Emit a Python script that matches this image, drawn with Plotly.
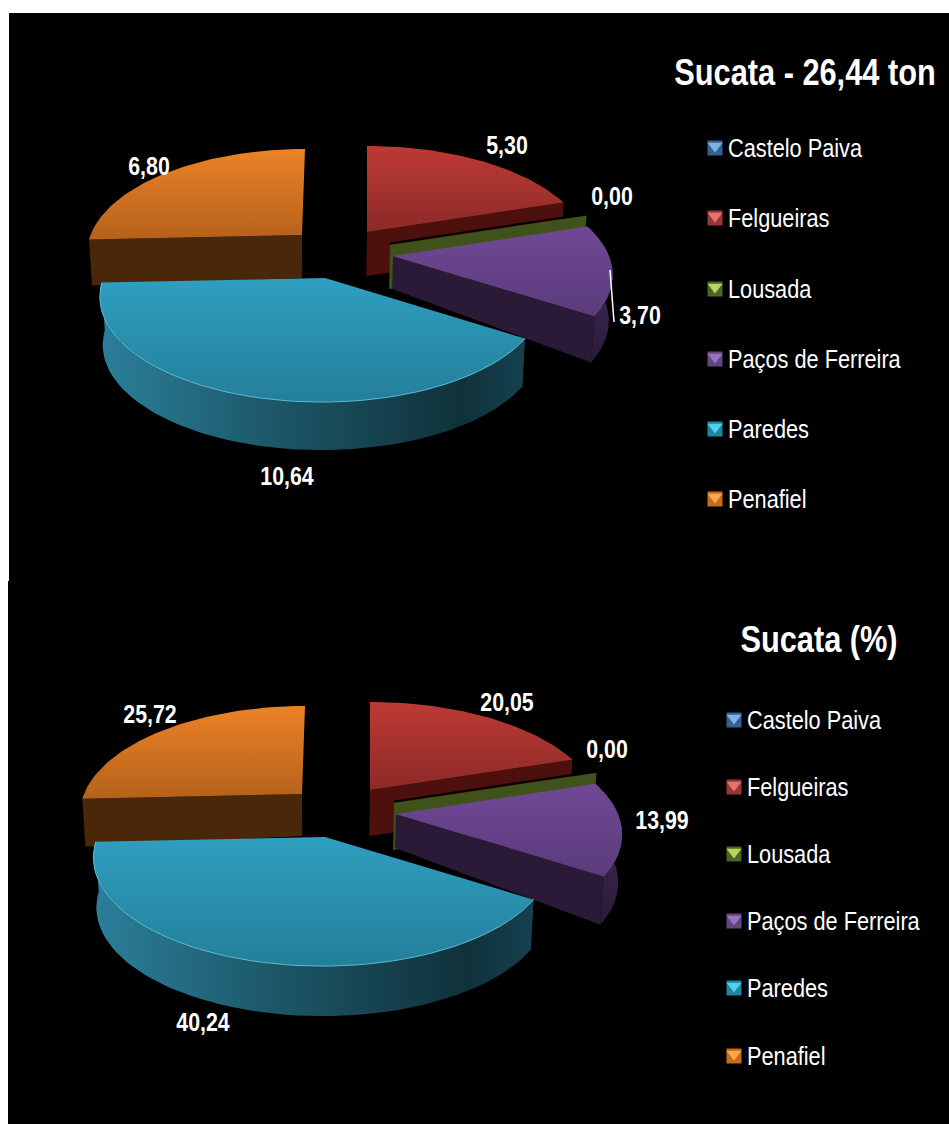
import math
import plotly.graph_objects as go

# ---------- data ----------
CATEGORIES = ["Castelo Paiva", "Felgueiras", "Lousada", "Paços de Ferreira", "Paredes", "Penafiel"]
TONS = [0.0, 5.30, 0.0, 3.70, 10.64, 6.80]
PERCENT = [0.0, 20.05, 0.0, 13.99, 40.24, 25.72]
TITLE_TOP = "Sucata - 26,44 ton"
TITLE_BOTTOM = "Sucata (%)"

# ---------- styles ----------
FONT = "Liberation Sans, Arial, sans-serif"
TOP_FACE = [("#4F81BD", "#3A6A9E"), ("#BE3A35", "#8C2A27"), ("#7F9F36", "#5F7A28"),
            ("#704896", "#5B3B7C"), ("#2F9FC0", "#237F9A"), ("#EC8226", "#B5611B")]
WALL = ["#1F3A5A", "#4D100C", "#3F5219", "#2A1A37", "#153A46", "#4A2709"]
BLUE_RIM = [[0, "#2B7F9B"], [0.45, "#1B5363"], [0.85, "#10313B"], [1, "#154250"]]
PURPLE_RIM = ("#46305F", "#2A1A37")
BEVEL = ["#7FB0E8", "#E87070", "#B6D85A", "#9A6FC4", "#4FD0EC", "#F8A850"]
MARK = ["#366092", "#953735", "#4F6228", "#5F497A", "#21859F", "#C96A15"]

# ---------- geometry (pixel frame of the page) ----------
W, H = 949, 1124
CHARTS = [
    dict(values=TONS, b=101.6, k=0.181, total=sum(TONS),
         R=[218, 218, 218, 218, 218, 214.5], arc_dx=[0, 0, 0, -2, -3.5, 3],
         apex=[(367, 232), (367, 232), (390, 245), (393, 256), (325, 278), (302, 235)],
         apex_depth=[44, 44, 44, 33, 48, 43], depth=46, cx=320,
         title=TITLE_TOP, title_xy=(805, 76),
         labels=[None, (507, 147), (612, 198), (640, 317), (287, 478), (149, 168)],
         legend_x=715, legend_y=[150, 220, 291, 361, 431, 501], marker_y=[148, 218, 289, 359, 429, 499]),
    dict(values=PERCENT, b=104.7, k=0.189, total=sum(PERCENT),
         R=[225, 225, 225, 225, 225, 221], arc_dx=[0, 0, 0, -3, -2.5, 3],
         apex=[(370, 790), (370, 790), (394, 803), (396, 814), (325, 837), (302, 794)],
         apex_depth=[46, 46, 47, 34, 50, 42], depth=48, cx=320,
         title=TITLE_BOTTOM, title_xy=(819, 643),
         labels=[None, (507, 704), (607, 751), (662, 822), (203, 1024), (150, 716)],
         legend_x=734, legend_y=[722, 789, 856, 923, 990, 1058], marker_y=[720, 787, 854, 921, 988, 1056]),
]
LEADER = [(610, 270), (614, 322)]

fig = go.Figure()


def project(ch, i, theta):
    ax, ay = ch["apex"][i]
    X, Y = math.sin(theta), math.cos(theta)
    s = 1 / (1 + ch["k"] * Y)
    return ax + ch["arc_dx"][i] + ch["R"][i] * X * s, ay - ch["b"] * Y * s


def arc(ch, i, t0, t1, n=60):
    return [project(ch, i, t0 + (t1 - t0) * j / n) for j in range(n + 1)]


def bottom(ch, x, y, d):
    return ch["cx"] + (x - ch["cx"]) * 0.987, y + d


def poly(points, grad_type, colors):
    xs = [p[0] for p in points] + [points[0][0]]
    ys = [p[1] for p in points] + [points[0][1]]
    if grad_type is None:
        fillkw = dict(fillcolor=colors)
    else:
        vals = [p[1] for p in points] if grad_type == "vertical" else [p[0] for p in points]
        if isinstance(colors, tuple):
            colors = [[0, colors[0]], [1, colors[1]]]
        fillkw = dict(fillgradient=dict(type=grad_type, start=min(vals), stop=max(vals),
                                        colorscale=colors))
    fig.add_trace(go.Scatter(x=xs, y=ys, mode="lines", fill="toself", line=dict(width=0),
                             hoverinfo="skip", showlegend=False, **fillkw))


for ch in CHARTS:
    vals, total = ch["values"], ch["total"]
    angles, acc = [], 0.0
    for v in vals:
        angles.append((2 * math.pi * acc / total, 2 * math.pi * (acc + v) / total))
        acc += v

    # painter's order: far slices first
    for i in [1, 2, 3, 5, 4]:
        t0, t1 = angles[i]
        ax, ay = ch["apex"][i]
        d, ad = ch["depth"], ch["apex_depth"][i]
        top_arc = arc(ch, i, t0, t1) if vals[i] > 0 else [project(ch, i, t0)]

        # flat radial wall facing the viewer
        if i in (1, 2, 3):
            e = project(ch, i, t1)
        elif i == 5:
            e = project(ch, i, t0)
        else:
            e = None
        if e is not None:
            poly([(ax, ay), e, bottom(ch, e[0], e[1], d), bottom(ch, ax, ay, ad)], None, WALL[i])
        if i == 2:
            fig.add_trace(go.Scatter(x=[ax, e[0]], y=[ay - 1.5, e[1] - 1.5], mode="lines",
                                     line=dict(color="black", width=2),
                                     hoverinfo="skip", showlegend=False))

        # outer rim
        if i == 3:
            rim_arc = arc(ch, i, math.pi * 0.45, t1, 30)
            low = [bottom(ch, x, y, d) for x, y in rim_arc]
            poly(rim_arc + low[::-1], "vertical", PURPLE_RIM)
        elif i == 4:
            rim_arc = arc(ch, i, t0, t1)
            low = [bottom(ch, x, y, d + 2) for x, y in rim_arc]
            poly(rim_arc + low[::-1], "horizontal", BLUE_RIM)

        # top face
        if vals[i] > 0:
            poly([(ax, ay)] + top_arc, "vertical", TOP_FACE[i])

        if i == 4:
            fig.add_trace(go.Scatter(x=[p[0] for p in top_arc], y=[p[1] for p in top_arc],
                                     mode="lines", line=dict(color="#5CBFD8", width=1),
                                     hoverinfo="skip", showlegend=False))

    # value labels
    shown = [(f"{v:.2f}".replace(".", ","), pos) for v, pos in zip(vals, ch["labels"]) if pos]
    fig.add_trace(go.Scatter(x=[p[1][0] for p in shown], y=[p[1][1] for p in shown],
                             text=[p[0] for p in shown], mode="text", textposition="middle center",
                             textfont=dict(family=FONT, size=26, color="white", weight="bold"),
                             hoverinfo="skip", showlegend=False))

    # legend rows
    lx = ch["legend_x"]
    fig.add_trace(go.Scatter(x=[lx] * 6, y=ch["marker_y"], mode="markers",
                             marker=dict(symbol="square", size=15, color=MARK, line=dict(width=0)),
                             hoverinfo="skip", showlegend=False))
    fig.add_trace(go.Scatter(x=[lx] * 6, y=[y - 2 for y in ch["marker_y"]], mode="markers",
                             marker=dict(symbol="triangle-down", size=13, color=BEVEL, line=dict(width=0)),
                             hoverinfo="skip", showlegend=False))
    fig.add_trace(go.Scatter(x=[lx + 13] * 6, y=ch["legend_y"], text=CATEGORIES, mode="text",
                             textposition="middle right",
                             textfont=dict(family=FONT, size=26.5, color="white"),
                             hoverinfo="skip", showlegend=False))

    # chart title
    fig.add_trace(go.Scatter(x=[ch["title_xy"][0]], y=[ch["title_xy"][1]], text=[ch["title"]],
                             mode="text", textposition="middle center",
                             textfont=dict(family=FONT, size=37.5, color="white", weight="bold"),
                             hoverinfo="skip", showlegend=False))

# leader line of the Paços de Ferreira label
fig.add_trace(go.Scatter(x=[p[0] for p in LEADER], y=[p[1] for p in LEADER], mode="lines",
                         line=dict(color="white", width=1.5), hoverinfo="skip", showlegend=False))

fig.update_layout(
    width=W, height=H, margin=dict(l=0, r=0, t=0, b=0),
    paper_bgcolor="white", plot_bgcolor="white", showlegend=False,
    xaxis=dict(range=[0, W], visible=False, fixedrange=True),
    yaxis=dict(range=[H, 0], visible=False, fixedrange=True),
    shapes=[
        dict(type="rect", xref="x", yref="y", x0=9, x1=W, y0=13, y1=581,
             fillcolor="black", line=dict(width=0), layer="below"),
        dict(type="rect", xref="x", yref="y", x0=8, x1=W, y0=581, y1=H,
             fillcolor="black", line=dict(width=0), layer="below"),
    ],
)

# the reference lettering is a narrow face: squeeze the real text horizontally
NARROW = """
document.body.style.margin='0';document.body.style.overflow='hidden';
document.querySelectorAll('.main-svg text').forEach(function(t){
  var n=t.getComputedTextLength();
  if(n>0){t.setAttribute('textLength',n*0.82);t.setAttribute('lengthAdjust','spacingAndGlyphs');}
});
"""
fig.write_html("out.html", post_script=NARROW, config=dict(displayModeBar=False))
